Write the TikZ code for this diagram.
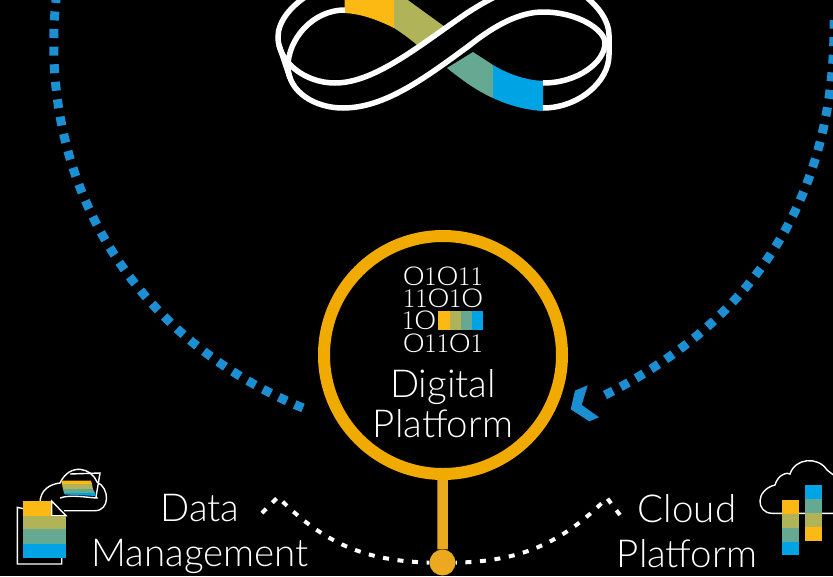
\documentclass[tikz,border=0pt]{standalone}
\usepackage{fontspec}
\usepackage{graphicx}
\setmainfont{Lato Light}
\newfontfamily\bitfont{Latin Modern Roman}
\usetikzlibrary{positioning}

\definecolor{sapYellow}{HTML}{FDB913}
\definecolor{sapOlive}{HTML}{B1B359}
\definecolor{sapTeal}{HTML}{66A992}
\definecolor{sapBlue}{HTML}{00A3E4}
\definecolor{ringGold}{HTML}{F0AA00}
\definecolor{stemGold}{HTML}{EBA91F}
\definecolor{arcBlue}{HTML}{1B8FD2}

\newcommand{\zr}{\scalebox{1.42}[1]{\fontsize{26}{26}\rmfamily 0}}
\newcommand{\one}{1}

\tikzset{
    label text/.style={text=white,font=\fontsize{38.5}{45}\selectfont,align=center,inner sep=0pt},
    bit row/.style={text=white,font=\bitfont\fontsize{27}{27}\selectfont,inner sep=0pt},
    blue arc/.style={draw=arcBlue,line width=9pt,dash pattern=on 9pt off 8.6pt},
    white dots/.style={draw=white,line width=4pt,dash pattern=on 6pt off 8.6pt},
    ribbon/.style={draw=white,line width=5.5pt},
    thin outline/.style={draw=white,line width=1.4pt},
}

\begin{document}
\begin{tikzpicture}[x=1pt,y=-1pt]

    \fill[black] (0,0) rectangle (833,576);
    \clip (0,0) rectangle (833,576);

    % Ribbon bands %
    \fill[sapYellow] (344.7,-2) -- (394,-2) -- (394,28) .. controls (378,20) and (362,14) .. (344.7,13) -- cycle;
    \fill[sapOlive] (394,-2) -- (405,-2) -- (445,27) -- (417,45) .. controls (410,39) and (402,33) .. (394,28) -- cycle;
    \fill[sapTeal] (473,52) -- (493,65) -- (493,98) .. controls (477,91) and (462,80) .. (447,68) -- cycle;
    \fill[sapBlue] (493,65) .. controls (508,74) and (525,80) .. (543,81) -- (543,111) .. controls (525,110) and (508,105) .. (493,98) -- cycle;

    % Ribbon edges %
    \draw[ribbon] (310,-6) .. controls (290,6) and (278,22) .. (278,37) .. controls (278,62) and (305,83) .. (335,83)
        .. controls (375,83) and (420,45) .. (467,13) .. controls (478,6) and (488,0) .. (497,-4);
    \draw[ribbon] (345,10) .. controls (312,10) and (288,40) .. (288,66) .. controls (288,92) and (315,108) .. (343,108)
        .. controls (385,108) and (425,78) .. (470,45) .. controls (495,25) and (520,12) .. (543,12)
        .. controls (578,12) and (605,30) .. (605,43) .. controls (605,62) and (578,83) .. (543,83);
    \draw[ribbon] (543,108) .. controls (578,108) and (609,82) .. (609,55) -- (609,35) .. controls (609,22) and (600,8) .. (585,-4);
    \draw[ribbon] (279,45) -- (290,78);

    % Big arcs %
    \coordinate (arcLeftLow) at (303,408);
    \coordinate (arcLeftTop) at (60,-30);
    \coordinate (arcRightLow) at (605,395);
    \coordinate (arcRightTop) at (834,20);
    \path [blue arc] (arcLeftLow) edge [bend left=38.5] (arcLeftTop);
    \path [blue arc] (arcRightLow) edge [bend right=32] (arcRightTop);
    \fill[arcBlue] (587.7,385.3) -- (575,390.7) -- (570.7,409.3) -- (589.3,421.3) -- (599,417.3) -- (581.7,405) -- cycle;

    % Digital platform %
    \node[circle,draw=ringGold,line width=12pt,minimum size=238pt,inner sep=0pt] (ring) at (443,355) {};
    \node[circle,fill=stemGold,minimum size=26pt,inner sep=0pt] (dot) at (442.5,562.5) {};
    \path [draw=stemGold,line width=10.5pt] (ring) -- (dot);

    \node[bit row] (row1) at (443,276) {\zr\one\zr\one\one};
    \node[bit row] (row2) at (443,298) {\one\one\zr\one\zr};
    \node[bit row,anchor=west] (row3) at (402,320) {\one\zr};
    \node[bit row] (row4) at (443,343) {\zr\one\one\zr\one};
    \fill[sapYellow] (438,311) rectangle (450,330);
    \fill[sapOlive] (450,311) rectangle (461,330);
    \fill[sapTeal] (461,311) rectangle (472,330);
    \fill[sapBlue] (472,311) rectangle (483,330);

    \node[label text,font=\fontsize{38.5}{40}\selectfont] (digital) at (443,404) {Digital\\Platform};
    \node[label text] (data) at (200,533.5) {Data\\Management};
    \node[label text] (cloud) at (687,531) {Cloud\\Platform};

    % Dotted links %
    \coordinate (leftTail) at (262,513);
    \coordinate (leftPeak) at (278,497);
    \coordinate (rightTail) at (620,515);
    \coordinate (rightPeak) at (607,498);
    \path [white dots] (leftTail) -- (leftPeak) to [bend right=22] (dot);
    \path [white dots] (rightTail) -- (rightPeak) to [bend left=22] (dot);

    % Document icon %
    \draw[thin outline] (51.7,515) -- (17.3,507.3) -- (17.3,564) -- (61.7,564) -- (61.7,558);
    \draw[thin outline] (64,510.7) -- (95,510.7) .. controls (110,510.7) and (110,488) .. (97,482)
        .. controls (92,468) and (70,462) .. (60,483) .. controls (50,484) and (40,490) .. (40,503);
    \draw[thin outline] (70,474) -- (100,473) -- (96,497);
    \fill[sapYellow] (61,480.5) -- (91,480.5) -- (92,484) -- (62,484) -- cycle;
    \fill[sapOlive] (62,484) -- (92,484) -- (93,489) -- (63,489) -- cycle;
    \fill[sapTeal] (63,489) -- (93,489) -- (95,493) -- (64,493) -- cycle;
    \fill[sapBlue] (64,493) -- (95,493) -- (96,496) -- (65,494.5) -- cycle;
    \draw[thin outline] (60,498) .. controls (70,494) and (90,498) .. (98,498);
    \fill[sapYellow] (23,501) -- (51.7,501) -- (51.7,515.7) -- (23,515.7) -- cycle;
    \draw[thin outline] (51.7,501) -- (66,515.7) -- (51.7,515.7) -- cycle;
    \fill[sapOlive] (23,515.7) rectangle (66,529.3);
    \fill[sapTeal] (23,529.3) rectangle (66,543.7);
    \fill[sapBlue] (23,543.7) rectangle (66,558.3);

    % Cloud icon %
    \draw[thin outline] (840,513.3) -- (772,513.3) .. controls (756,513) and (755,490) .. (775,485)
        .. controls (778,474) and (788,472) .. (790,474) .. controls (795,458) and (818,456) .. (827,470) -- (840,480);
    \fill[sapYellow] (781.7,500) rectangle (798.7,514.3);
    \fill[sapOlive] (781.7,514.3) rectangle (798.7,527.7);
    \fill[sapTeal] (781.7,527.7) rectangle (798.7,541.7);
    \fill[sapBlue] (781.7,541.7) rectangle (798.7,555);
    \fill[sapBlue] (805.3,485) rectangle (822,499.3);
    \fill[sapTeal] (805.3,499.3) rectangle (822,513);
    \fill[sapOlive] (805.3,513) rectangle (822,527);
    \fill[sapYellow] (805.3,527) rectangle (822,540.7);

\end{tikzpicture}
\end{document}
